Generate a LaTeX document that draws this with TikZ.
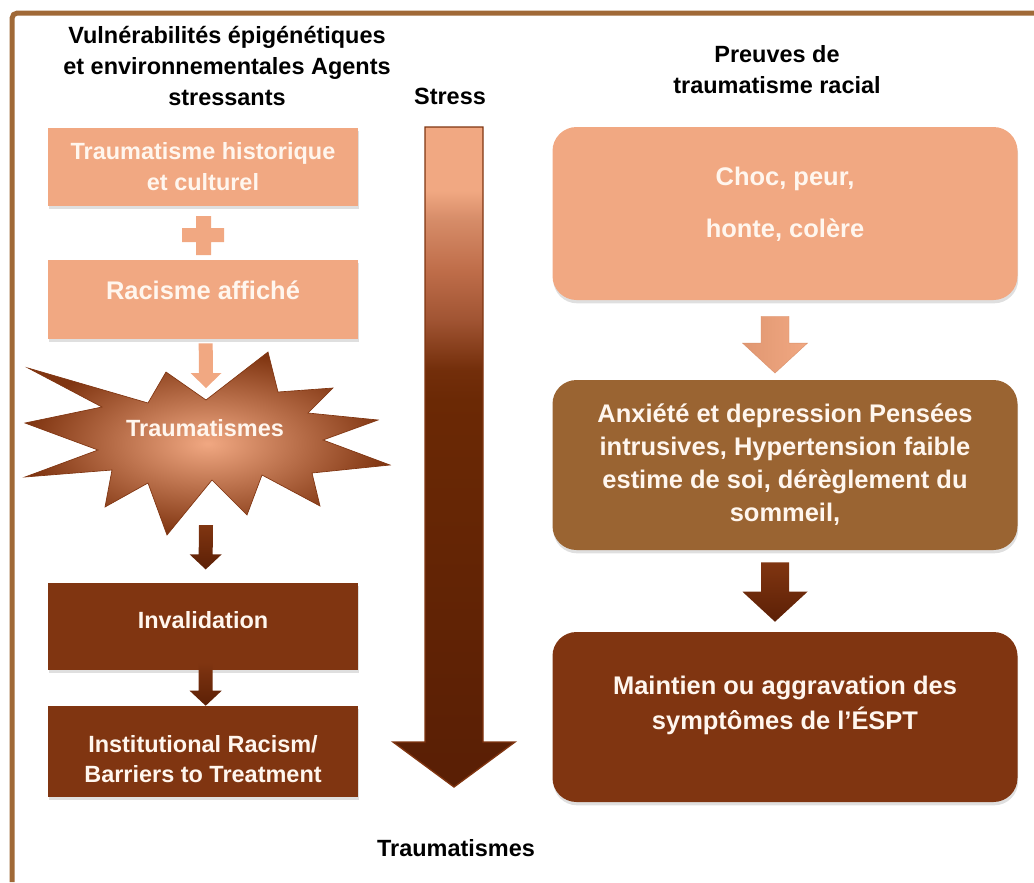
\documentclass[tikz,border=0pt]{standalone}
\usepackage{fontspec}
\setmainfont{Liberation Sans}
\usetikzlibrary{positioning,calc,shadows}

\definecolor{saumon}{RGB}{241,168,130}
\definecolor{ocre}{RGB}{154,100,50}
\definecolor{brun}{RGB}{128,53,17}
\definecolor{profond}{RGB}{92,32,6}
\definecolor{cadre}{RGB}{160,105,55}
\definecolor{blanc}{RGB}{255,246,238}

% gradient of the stress arrow (path fills 25bp..75bp)
\pgfdeclareverticalshading{stressgrad}{100bp}{%
  rgb(0bp)=(0.35,0.12,0.02);
  rgb(25bp)=(0.35,0.12,0.02);
  rgb(54.3bp)=(0.42,0.16,0.02);
  rgb(56.6bp)=(0.45,0.18,0.04);
  rgb(60.4bp)=(0.63,0.33,0.20);
  rgb(64.2bp)=(0.75,0.43,0.29);
  rgb(68bp)=(0.84,0.55,0.41);
  rgb(70.2bp)=(0.945,0.66,0.51);
  rgb(100bp)=(0.945,0.66,0.51)}

% block arrow: style, start, tip, half shaft, half head, head length
\newcommand{\blockarrow}[6]{%
  \path[#1] ($(#2)+(-#4,0)$) -- ($(#3)+(-#4,-#6)$) -- ($(#3)+(-#5,-#6)$) -- (#3)
    -- ($(#3)+(#5,-#6)$) -- ($(#3)+(#4,-#6)$) -- ($(#2)+(#4,0)$) -- cycle;}

\begin{document}
\begin{tikzpicture}[x=0.75pt, y=-0.75pt,
  titre/.style={font=\bfseries\fontsize{17.6pt}{23.25pt}\selectfont, align=center, text=black},
  boite/.style={align=center, text=blanc, inner sep=0pt, minimum width=232.5pt,
    drop shadow={shadow xshift=0.5pt, shadow yshift=-2.5pt, opacity=0.25}},
  ronde/.style={boite, rounded corners=18pt, minimum width=348.75pt, minimum height=127.5pt},
  gauche/.style={font=\bfseries\fontsize{17.6pt}{23.25pt}\selectfont},
  droite/.style={font=\bfseries\fontsize{19.1pt}{24.75pt}\selectfont}]

\useasboundingbox (0,0) rectangle (1034,882);

\def\xl{203}
\def\xm{454}
\def\xr{785}

% frame
\draw[cadre, line width=3.75pt, rounded corners=4pt] (12,882) -- (12,13) -- (1034,13);

% titles
\node[titre] (tg) at (227,66) {Vuln\'erabilit\'es \'epig\'en\'etiques\\et environnementales Agents\\stressants};
\node[titre] (ts) at (450,96) {Stress};
\node[titre] (td) at (777,70) {Preuves de\\traumatisme racial};
\node[titre] (tb) at (456,848) {Traumatismes};

% left column
\node[boite, gauche, fill=saumon, minimum height=58.5pt] (r1) at (\xl,167) {Traumatisme historique\\et culturel};
\node[boite, gauche, fill=saumon, minimum height=59.25pt, text depth=14pt,
  font=\bfseries\fontsize{19.1pt}{24pt}\selectfont] (r2) at (\xl,299.5) {Racisme affich\'e};
\node[boite, gauche, fill=brun, minimum height=65.25pt, text depth=10pt] (r3) at (\xl,626.5) {Invalidation};
\node[boite, gauche, fill=brun, minimum height=68.25pt, text height=46pt,
  font=\bfseries\fontsize{17.6pt}{22.5pt}\selectfont] (r4) at (\xl,751.5) {Institutional Racism/\\Barriers to Treatment};

% plus
\fill[saumon] (196,216) -- (211,216) -- (211,228) -- (224,228) -- (224,242) -- (211,242)
  -- (211,255) -- (196,255) -- (196,242) -- (182,242) -- (182,228) -- (196,228) -- cycle;

% burst
\path[inner color=saumon, outer color=brun, draw=brun, line width=0.5pt]
  (28,368) -- (148,403) -- (166,372) -- (206,400) -- (268,352) -- (278,392)
  -- (333,388) -- (308,413) -- (378,420) -- (323,440) -- (390,465) -- (312,473)
  -- (320,506) -- (262,475) -- (247,515) -- (212,480) -- (167,535) -- (148,483)
  -- (105,507) -- (112,470) -- (25,477) -- (98,450) -- (25,423) -- (102,407) -- cycle;
\node[text=blanc, gauche] (tr) at (205,428) {Traumatismes};

% right column
\node[ronde, droite, fill=saumon, minimum height=129.75pt, text depth=17pt,
  font=\bfseries\fontsize{19.1pt}{39pt}\selectfont] (ra) at (\xr,213.5) {Choc, peur,\\honte, col\`ere};
\node[ronde, droite, fill=ocre] (rb) at (\xr,465) {Anxi\'et\'e et depression Pens\'ees\\intrusives, Hypertension faible\\estime de soi, d\'er\`eglement du\\sommeil,};
\node[ronde, droite, fill=brun, text depth=21pt,
  font=\bfseries\fontsize{19.1pt}{26.25pt}\selectfont] (rc) at (\xr,717) {Maintien ou aggravation des\\sympt\^omes de l’\'ESPT};

% arrows
\coordinate (a1s) at ([yshift=-3pt, xshift=2pt]r2.south);
\coordinate (a1e) at (206,388);
\coordinate (a2s) at (206,525);
\coordinate (a2e) at ([yshift=10pt, xshift=2pt]r3.north);
\coordinate (a3s) at ([yshift=6pt, xshift=2pt]r3.south);
\coordinate (a3e) at ([xshift=2pt]r4.north);
\coordinate (a4s) at ([yshift=-12pt]ra.south -| 775,0);
\coordinate (a4e) at ([yshift=5pt]rb.north -| 775,0);
\coordinate (a5s) at ([yshift=-9pt]rb.south -| 775,0);
\coordinate (a5e) at ([yshift=7.5pt]rc.north -| 775,0);
\coordinate (gs) at (\xm,127);
\coordinate (ge) at (\xm,787);

\blockarrow{fill=saumon}{a1s}{a1e}{7}{15.5}{15}
\blockarrow{top color=brun, bottom color=profond}{a2s}{a2e}{7}{16}{15}
\blockarrow{top color=brun, bottom color=profond}{a3s}{a3e}{7}{16}{15}
\blockarrow{left color=saumon!85!brun, right color=saumon, draw=saumon!80!brun, line width=0.3pt}{a4s}{a4e}{14}{32.5}{30}
\blockarrow{top color=brun, bottom color=profond}{a5s}{a5e}{14}{32.5}{30}
\blockarrow{shading=stressgrad, draw=brun, line width=1pt}{gs}{ge}{29}{61}{45}

\end{tikzpicture}
\end{document}
